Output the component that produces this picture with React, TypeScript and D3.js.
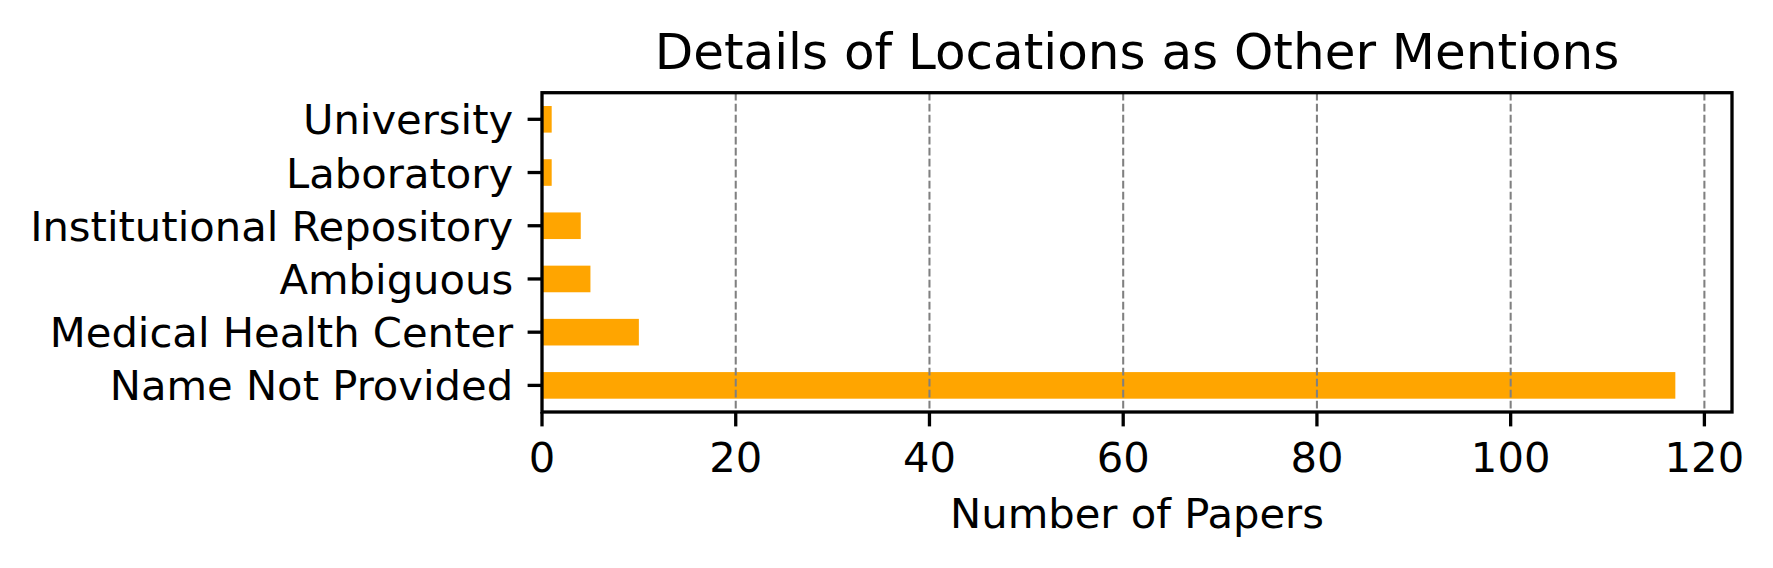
import React, { useRef, useEffect } from "react";
import * as d3 from "d3";

// data (top to bottom)
const categories = [
  "University",
  "Laboratory",
  "Institutional Repository",
  "Ambiguous",
  "Medical Health Center",
  "Name Not Provided",
];
const paperCounts = [1, 1, 4, 5, 10, 117];
const xTicks = [0, 20, 40, 60, 80, 100, 120];

const chartTitle = "Details of Locations as Other Mentions";
const xLabel = "Number of Papers";

const W = 1773;
const H = 568;

export default function App() {
  const svgRef = useRef<SVGSVGElement | null>(null);

  useEffect(() => {
    drawChart();
  }, []);

  function drawChart() {
    const svg = d3.select(svgRef.current);
    svg.selectAll("*").remove();

    const margin = { top: 92.7, left: 542, bottom: 156, right: 41 };
    const font = "DejaVu Sans, sans-serif";
    const tickLen = 14.4;
    const pad = 14.4;
    const lw = 3.3;
    const fs = 41.7; // 10pt @ 300dpi

    const rows = categories.map((c, i) => ({ name: c, value: paperCounts[i] }));

    // matplotlib-style 5% margin on the right
    const xMax = d3.max(paperCounts)! * 1.05;
    const xScale = d3
      .scaleLinear()
      .domain([0, xMax])
      .range([margin.left, W - margin.right]);

    const yScale = d3
      .scaleBand()
      .domain(categories)
      .range([margin.top, H - margin.bottom])
      .paddingInner(0.5)
      .paddingOuter(0.25);

    const x0 = margin.left;
    const x1 = W - margin.right;
    const y0 = margin.top;
    const y1 = H - margin.bottom;

    // bars
    svg
      .append("g")
      .selectAll("rect")
      .data(rows)
      .join("rect")
      .attr("x", xScale(0))
      .attr("y", (d) => yScale(d.name)!)
      .attr("width", (d) => xScale(d.value) - xScale(0))
      .attr("height", yScale.bandwidth())
      .attr("fill", "#ffa500");

    // dashed vertical grid, drawn over the bars
    svg
      .append("g")
      .selectAll("line")
      .data(xTicks)
      .join("line")
      .attr("x1", (d) => xScale(d))
      .attr("x2", (d) => xScale(d))
      .attr("y1", y0)
      .attr("y2", y1)
      .attr("stroke", "#808080")
      .attr("stroke-width", 2.06)
      .attr("stroke-dasharray", "7.7,3.3");

    // frame
    svg
      .append("rect")
      .attr("x", x0)
      .attr("y", y0)
      .attr("width", x1 - x0)
      .attr("height", y1 - y0)
      .attr("fill", "none")
      .attr("stroke", "black")
      .attr("stroke-width", lw);

    // x ticks
    const xg = svg.append("g");
    xg.selectAll("line")
      .data(xTicks)
      .join("line")
      .attr("x1", (d) => xScale(d))
      .attr("x2", (d) => xScale(d))
      .attr("y1", y1)
      .attr("y2", y1 + tickLen)
      .attr("stroke", "black")
      .attr("stroke-width", lw);
    xg.selectAll("text")
      .data(xTicks)
      .join("text")
      .attr("x", (d) => xScale(d))
      .attr("y", 471.7)
      .attr("text-anchor", "middle")
      .attr("font-family", font)
      .attr("font-size", fs)
      .text((d) => d);

    // y ticks
    const yg = svg.append("g");
    yg.selectAll("line")
      .data(categories)
      .join("line")
      .attr("x1", x0 - tickLen)
      .attr("x2", x0)
      .attr("y1", (d) => yScale(d)! + yScale.bandwidth() / 2)
      .attr("y2", (d) => yScale(d)! + yScale.bandwidth() / 2)
      .attr("stroke", "black")
      .attr("stroke-width", lw);
    yg.selectAll("text")
      .data(categories)
      .join("text")
      .attr("x", x0 - tickLen - pad)
      .attr("y", (d) => yScale(d)! + yScale.bandwidth() / 2)
      .attr("dy", "0.36em")
      .attr("text-anchor", "end")
      .attr("font-family", font)
      .attr("font-size", fs)
      .text((d) => d);

    // axis label
    svg
      .append("text")
      .attr("x", (x0 + x1) / 2)
      .attr("y", 528.3)
      .attr("text-anchor", "middle")
      .attr("font-family", font)
      .attr("font-size", fs)
      .text(xLabel);

    // title
    svg
      .append("text")
      .attr("x", (x0 + x1) / 2)
      .attr("y", 69)
      .attr("text-anchor", "middle")
      .attr("font-family", font)
      .attr("font-size", 50)
      .text(chartTitle);
  }

  return (
    <svg
      ref={svgRef}
      width={W}
      height={H}
      style={{ position: "absolute", left: 0, top: 0, background: "white" }}
    />
  );
}
